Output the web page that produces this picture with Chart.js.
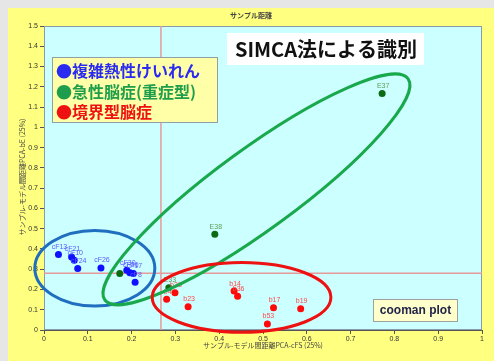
<!DOCTYPE html>
<html>
<head>
<meta charset="utf-8">
<script src="https://cdn.jsdelivr.net/npm/chart.js@4.4.1/dist/chart.umd.min.js"></script>
<style>
  html, body { margin: 0; padding: 0; background: #e6e6e6; }
  canvas { display: block; }
</style>
</head>
<body>
<canvas id="c" width="494" height="361"></canvas>
<script>
// 複雑熱性けいれん (blue)
const febrileX = [0.033, 0.063, 0.069, 0.077, 0.130, 0.189, 0.196, 0.204, 0.208];
const febrileY = [0.372, 0.360, 0.344, 0.303, 0.306, 0.295, 0.282, 0.279, 0.235];
const febrileNames = ['cF13', 'cF21', 'cF10', 'cF24', 'cF26', 'cF30', 'cF36', 'cF17', 'cF8'];

// 急性脳症(重症型) (green)
const acuteX = [0.772, 0.390, 0.285, 0.173];
const acuteY = [1.167, 0.472, 0.208, 0.279];
const acuteNames = ['E37', 'E38', 'E33', ''];

// 境界型脳症 (red)
const borderX = [0.280, 0.299, 0.329, 0.434, 0.442, 0.524, 0.586, 0.510];
const borderY = [0.152, 0.184, 0.115, 0.192, 0.167, 0.110, 0.105, 0.030];
const borderNames = ['b4', 'b33', 'b23', 'b14', 'b36', 'b17', 'b19', 'b53'];

// critical distances (reference lines)
const critX = 0.267;
const critY = 0.280;

// axis ranges and ticks
const xMin = 0, xMax = 1, xStep = 0.1;
const yMin = 0, yMax = 1.5, yStep = 0.1;

// group outlines: centre, end of major axis (data units), minor/major ratio
const groupOutlines = [
  { cx: 0.116, cy: 0.305, ex: 0.253, ey: 0.305, ratio: 0.63, color: '#1f6ebf' },
  { cx: 0.485, cy: 0.694, ex: 0.831, ey: 1.240, ratio: 0.215, color: '#19a84b' },
  { cx: 0.451, cy: 0.161, ex: 0.655, ey: 0.161, ratio: 0.39, color: '#ee1111' }
];

const legendItems = [
  { text: '●複雑熱性けいれん', color: '#2a2af0' },
  { text: '●急性脳症(重症型)', color: '#1e9e4c' },
  { text: '●境界型脳症', color: '#ee1111' }
];

const toPoints = (xs, ys) => xs.map((x, i) => ({ x: x, y: ys[i] }));

const fmt = v => String(Math.round(v * 10) / 10);

const background = {
  id: 'background',
  beforeDraw(chart) {
    const { ctx, chartArea: a } = chart;
    ctx.save();
    ctx.fillStyle = '#e6e6e6';
    ctx.fillRect(0, 0, chart.width, chart.height);
    ctx.fillStyle = '#ffff80';
    ctx.fillRect(8, 8, chart.width - 8, chart.height - 8);
    ctx.fillStyle = '#ccffff';
    ctx.fillRect(a.left, a.top, a.right - a.left, a.bottom - a.top);
    ctx.restore();
  },
  beforeDatasetsDraw(chart) {
    const { ctx, chartArea: a, scales } = chart;
    ctx.save();
    ctx.strokeStyle = '#8a9bb0';
    ctx.lineWidth = 1;
    ctx.strokeRect(a.left + 0.5, a.top + 0.5, a.right - a.left - 1, a.bottom - a.top - 1);
    ctx.strokeStyle = '#e79a9a';
    ctx.lineWidth = 1.5;
    const px = scales.x.getPixelForValue(critX);
    const py = scales.y.getPixelForValue(critY);
    ctx.beginPath();
    ctx.moveTo(px, a.top); ctx.lineTo(px, a.bottom);
    ctx.moveTo(a.left, py); ctx.lineTo(a.right, py);
    ctx.stroke();
    ctx.restore();
  }
};

const annotations = {
  id: 'annotations',
  afterDatasetsDraw(chart) {
    const { ctx, scales } = chart;
    ctx.save();
    // point names
    ctx.font = '7px Arial, "Liberation Sans", sans-serif';
    ctx.textAlign = 'center';
    ctx.textBaseline = 'bottom';
    const groups = [
      [febrileX, febrileY, febrileNames, '#5a5aff'],
      [acuteX, acuteY, acuteNames, '#5aa05a'],
      [borderX, borderY, borderNames, '#ff4a4a']
    ];
    groups.forEach(([xs, ys, names, col]) => {
      ctx.fillStyle = col;
      xs.forEach((x, i) => {
        if (!names[i]) return;
        ctx.fillText(names[i], scales.x.getPixelForValue(x) + 1, scales.y.getPixelForValue(ys[i]) - 4);
      });
    });
    // group outlines
    ctx.lineWidth = 3;
    groupOutlines.forEach(g => {
      const cx = scales.x.getPixelForValue(g.cx), cy = scales.y.getPixelForValue(g.cy);
      const ex = scales.x.getPixelForValue(g.ex), ey = scales.y.getPixelForValue(g.ey);
      const a = Math.hypot(ex - cx, ey - cy);
      const rot = Math.atan2(ey - cy, ex - cx);
      ctx.strokeStyle = g.color;
      ctx.beginPath();
      ctx.ellipse(cx, cy, a, a * g.ratio, rot, 0, Math.PI * 2);
      ctx.stroke();
    });
    ctx.restore();
  },
  afterDraw(chart) {
    const { ctx } = chart;
    ctx.save();
    // chart title
    ctx.fillStyle = '#444';
    ctx.font = 'bold 7px "Noto Sans CJK JP", sans-serif';
    ctx.textAlign = 'center';
    ctx.textBaseline = 'middle';
    ctx.fillText('サンプル距離', 251, 15);
    // axis titles
    ctx.font = '7px "Noto Sans CJK JP", sans-serif';
    ctx.fillText('サンプル-モデル間距離PCA-cFS (25%)', 263, 345);
    ctx.translate(22, 177);
    ctx.rotate(-Math.PI / 2);
    ctx.fillText('サンプル-モデル間距離PCA-bE (25%)', 0, 0);
    ctx.setTransform(1, 0, 0, 1, 0, 0);

    // heading box
    ctx.fillStyle = '#ffffff';
    ctx.fillRect(227, 33, 197, 32);
    ctx.fillStyle = '#111';
    ctx.font = 'bold 20px "Noto Sans CJK JP", sans-serif';
    ctx.fillText('SIMCA法による識別', 326, 49);

    // group key
    ctx.fillStyle = '#ffffa8';
    ctx.fillRect(52, 57, 166, 66);
    ctx.strokeStyle = '#8fa0a8';
    ctx.lineWidth = 1;
    ctx.strokeRect(52.5, 57.5, 165, 65);
    ctx.font = 'bold 16px "Noto Sans CJK JP", sans-serif';
    ctx.textAlign = 'left';
    legendItems.forEach((it, i) => {
      ctx.fillStyle = it.color;
      ctx.fillText(it.text, 56, 71 + i * 20.5);
    });

    // plot type box
    ctx.fillStyle = '#ffffcc';
    ctx.fillRect(373, 299, 85, 23);
    ctx.strokeStyle = '#a0a0a0';
    ctx.strokeRect(373.5, 299.5, 84, 22);
    ctx.fillStyle = '#23234a';
    ctx.font = 'bold 12px Arial, "Liberation Sans", sans-serif';
    ctx.textAlign = 'center';
    ctx.fillText('cooman plot', 415.5, 311);
    ctx.restore();
  }
};

const tickFont = { family: 'Arial, "Liberation Sans", sans-serif', size: 7 };

new Chart(document.getElementById('c'), {
  type: 'scatter',
  data: {
    datasets: [
      { label: '複雑熱性けいれん', data: toPoints(febrileX, febrileY), backgroundColor: '#1010ff', pointRadius: 3.5, borderWidth: 0 },
      { label: '急性脳症(重症型)', data: toPoints(acuteX, acuteY), backgroundColor: '#0c6a12', pointRadius: 3.5, borderWidth: 0 },
      { label: '境界型脳症', data: toPoints(borderX, borderY), backgroundColor: '#ff0a0a', pointRadius: 3.5, borderWidth: 0 }
    ]
  },
  options: {
    responsive: false,
    animation: false,
    devicePixelRatio: 1,
    layout: { padding: { left: 8, top: 26, right: 12, bottom: 0 } },
    plugins: { legend: { display: false }, title: { display: false }, tooltip: { enabled: false } },
    scales: {
      x: {
        type: 'linear', min: xMin, max: xMax,
        ticks: { stepSize: xStep, font: tickFont, color: '#333', padding: 1, maxRotation: 0, autoSkip: false, callback: fmt },
        grid: { drawOnChartArea: false, drawTicks: true, tickLength: 4, color: '#555' },
        border: { color: '#555', width: 1 },
        afterFit(s) { s.height = 31; }
      },
      y: {
        type: 'linear', min: yMin, max: yMax,
        ticks: { stepSize: yStep, font: tickFont, color: '#333', padding: 2, autoSkip: false, callback: fmt },
        grid: { drawOnChartArea: false, drawTicks: true, tickLength: 4, color: '#555' },
        border: { color: '#555', width: 1 },
        afterFit(s) { s.width = 36; }
      }
    }
  },
  plugins: [background, annotations]
});
</script>
</body>
</html>
